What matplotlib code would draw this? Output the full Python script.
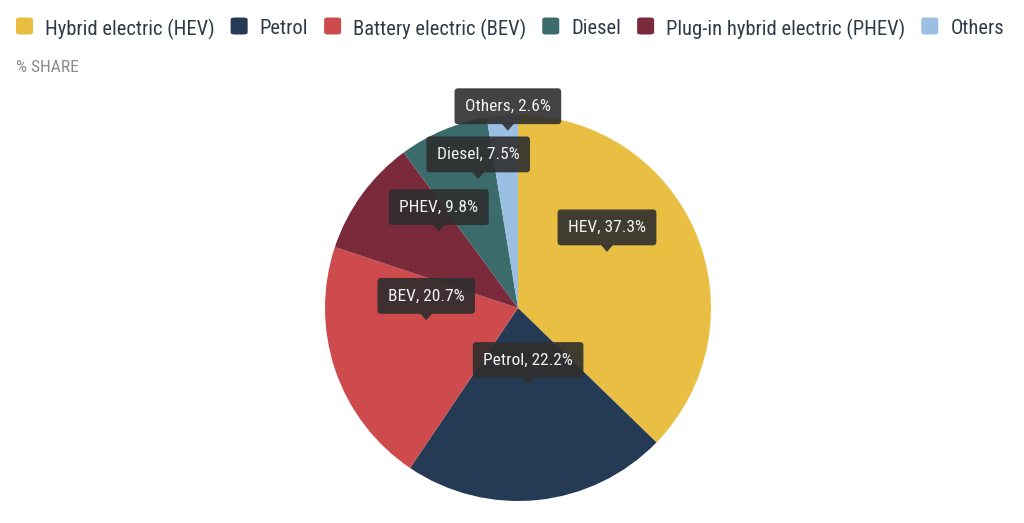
import numpy as np
import matplotlib
matplotlib.use("Agg")
import matplotlib.pyplot as plt
from matplotlib import font_manager
from matplotlib.patches import Polygon, FancyBboxPatch

# data
categories = ["Hybrid electric (HEV)", "Petrol", "Battery electric (BEV)", "Diesel",
              "Plug-in hybrid electric (PHEV)", "Others"]
short_names = ["HEV", "Petrol", "BEV", "Diesel", "PHEV", "Others"]
shares = [37.3, 22.2, 20.7, 7.5, 9.8, 2.6]
colors = ["#E8BF43", "#253A55", "#CD4B4C", "#3C6B6B", "#7A2A3A", "#9BBEE3"]

# pie order (clockwise from top)
pie_order = ["HEV", "Petrol", "BEV", "PHEV", "Diesel", "Others"]

# label placement tweaks: (radius fraction, angle nudge in degrees)
label_pos = {"HEV": (0.545, 9.3), "Petrol": (0.40, 1.6), "BEV": (0.48, -11.1),
             "PHEV": (0.57, -7.9), "Diesel": (0.70, -5.7), "Others": (0.92, -1.4)}

names = {f.name for f in font_manager.fontManager.ttflist}
font = "Roboto Condensed" if "Roboto Condensed" in names else "Roboto"
plt.rcParams["font.family"] = [font, "DejaVu Sans"]

W, H = 1024, 523
fig = plt.figure(figsize=(W / 100, H / 100), dpi=100)
fig.patch.set_facecolor("white")

# pie centre (518, 308) px from top-left, radius 193 px
cx, cy, R = 518, 308, 193
half = 205
ax = fig.add_axes([(cx - half) / W, (H - cy - half) / H, 2 * half / W, 2 * half / H])

idx = [short_names.index(n) for n in pie_order]
vals = [shares[i] for i in idx]
cols = [colors[i] for i in idx]
wedges, _ = ax.pie(vals, colors=cols, startangle=90, counterclock=False, radius=1,
                   wedgeprops=dict(linewidth=0))
ax.set_xlim(-half / R, half / R)
ax.set_ylim(-half / R, half / R)
ax.set_aspect("equal")
ax.axis("off")

px = 1 / R  # one pixel in data units
total = sum(vals)
cum = 0
for n, v in zip(pie_order, vals):
    mid = 90 - (cum + v / 2) / total * 360
    cum += v
    rf, nudge = label_pos[n]
    a = np.radians(mid + nudge)
    tx, ty = rf * np.cos(a), rf * np.sin(a)
    # pointer
    ax.add_patch(Polygon([[tx, ty], [tx - 6 * px, ty + 7 * px], [tx + 6 * px, ty + 7 * px]],
                         closed=True, facecolor="#2E2E2E", alpha=0.9, edgecolor="none", zorder=5))
    ax.text(tx, ty + 24.5 * px, f"{n}, {v}%", ha="center", va="center", color="#F2F2F2",
            fontsize=12.5, zorder=6,
            bbox=dict(boxstyle="round,pad=0.6,rounding_size=0.2", facecolor="#2E2E2E",
                      alpha=0.9, edgecolor="none"))

# legend (manual, single row)
fig.canvas.draw()
renderer = fig.canvas.get_renderer()
x = 16
ly = 26
for lab, c in zip(categories, colors):
    sq = FancyBboxPatch(((x) / W, (H - ly - 8.5) / H), 17 / W, 17 / H,
                        boxstyle="round,pad=0,rounding_size=0.004", transform=fig.transFigure,
                        facecolor=c, edgecolor="none")
    fig.patches.append(sq)
    t = fig.text((x + 29) / W, (H - ly - 1) / H, lab, ha="left", va="center_baseline",
                 fontsize=14.8, color="#2F3A48")
    w = t.get_window_extent(renderer).width
    x = x + 29 + w + 16

fig.text(16 / W, (H - 68) / H, "% SHARE", ha="left", va="center", fontsize=12.5, color="#8A8A8A")

fig.savefig("out.png", dpi=100, facecolor="white")
